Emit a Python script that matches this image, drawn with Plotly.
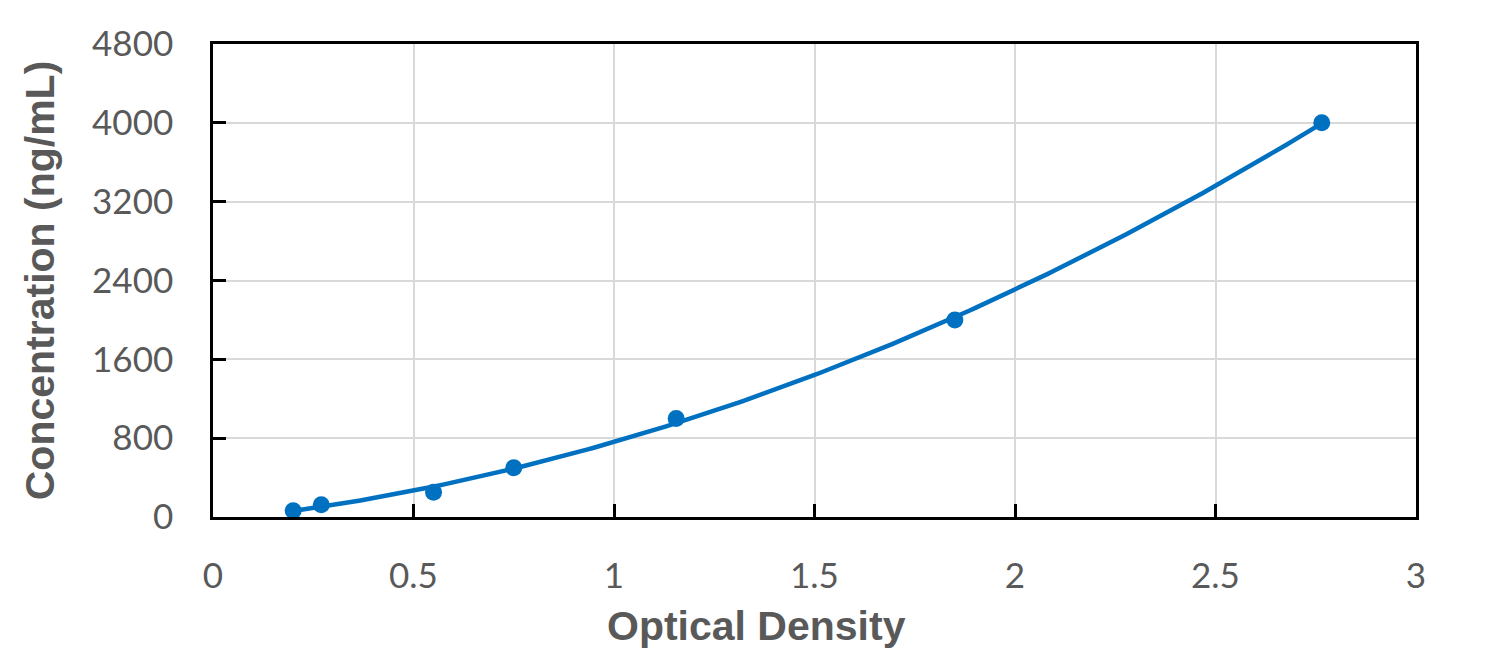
import numpy as np
import plotly.graph_objects as go

od = [0.2, 0.27, 0.55, 0.75, 1.155, 1.85, 2.765]
conc = [62.5, 125, 250, 500, 1000, 2000, 4000]
x_ticks = [0, 0.5, 1, 1.5, 2, 2.5, 3]
x_tick_labels = ["0", "0.5", "1", "1.5", "2", "2.5", "3"]
y_ticks = [0, 800, 1600, 2400, 3200, 4000, 4800]
y_tick_labels = ["0", "800", "1600", "2400", "3200", "4000", "4800"]

coef = np.polyfit(od, conc, 2)
xf = np.linspace(min(od), max(od), 200)
yf = np.polyval(coef, xf)

BLUE = "#0070C0"
GRAY = "#595959"

fig = go.Figure()
fig.add_trace(go.Scatter(x=xf, y=yf, mode="lines", line=dict(color=BLUE, width=4.5), hoverinfo="skip", showlegend=False))
fig.add_trace(go.Scatter(x=od, y=conc, mode="markers", marker=dict(color=BLUE, size=17), showlegend=False))

fig.update_layout(
    width=1498, height=669,
    margin=dict(l=213, r=82, t=44, b=152),
    paper_bgcolor="white", plot_bgcolor="white",
    font=dict(family="Lato", color=GRAY),
)
fig.update_xaxes(
    range=[0, 3], tickvals=x_ticks, ticktext=x_tick_labels,
    ticks="inside", ticklen=13, tickwidth=2.5, tickcolor="black",
    showline=True, linecolor="black", linewidth=2.5, mirror=True,
    showgrid=True, gridcolor="#d9d9d9", gridwidth=1.5, zeroline=False,
    tickfont=dict(family="Lato", size=35, color=GRAY),
    ticklabelstandoff=26,
)
fig.add_annotation(
    text="Optical Density", xref="paper", yref="paper",
    x=(756 - 213) / 1203, y=(517 - 626) / 473, xanchor="center", yanchor="middle",
    showarrow=False, font=dict(family="Liberation Sans", size=41, color=GRAY, weight="bold"),
)
fig.update_yaxes(
    range=[0, 4800], tickvals=y_ticks, ticktext=y_tick_labels,
    ticks="inside", ticklen=13, tickwidth=2.5, tickcolor="black",
    showline=True, linecolor="black", linewidth=2.5, mirror=True,
    showgrid=True, gridcolor="#d9d9d9", gridwidth=1.5, zeroline=False,
    tickfont=dict(family="Lato", size=35, color=GRAY),
    ticklabelstandoff=30,
    title=dict(text="Concentration (ng/mL)", font=dict(family="Liberation Sans", size=41, color=GRAY, weight="bold"), standoff=25),
)
fig.write_html("out.html")
